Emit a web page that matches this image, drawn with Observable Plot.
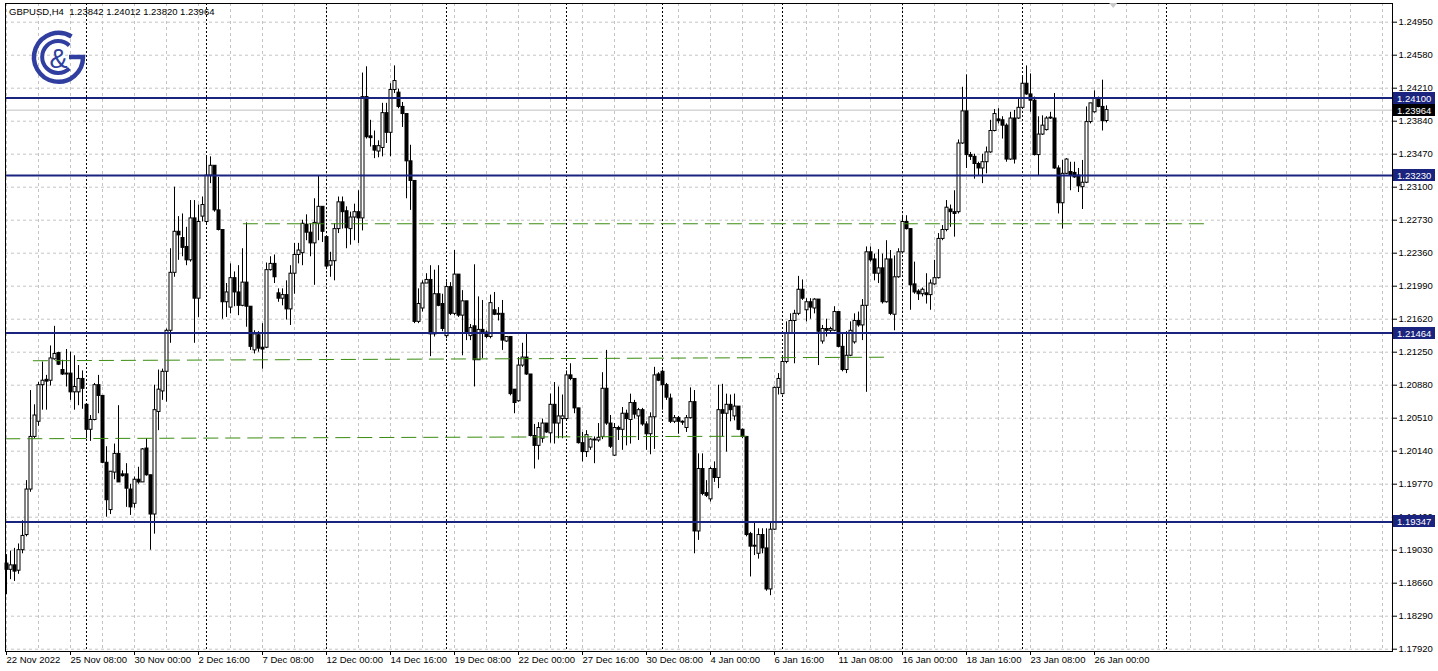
<!DOCTYPE html>
<html><head><meta charset="utf-8">
<script src="https://cdn.jsdelivr.net/npm/d3@7"></script>
<script src="https://cdn.jsdelivr.net/npm/@observablehq/plot@0.6"></script>
<style>
html,body{margin:0;padding:0;background:#fff;}
#wrap{position:relative;width:1438px;height:671px;overflow:hidden;font-family:"Liberation Sans",Arial,sans-serif;}
#title{position:absolute;left:9px;top:6px;font-size:9.5px;color:#000;white-space:pre;line-height:12px;}
#logo{position:absolute;left:0;top:0;}
</style></head><body>
<div id="wrap"><div id="chart"></div>
<div id="title"></div>
<svg id="logo" width="110" height="100" viewBox="0 0 110 100">
  <path d="M71.5,36.5 A24.5,24.5 0 1 0 83,57 L69,57" fill="none" stroke="#303f9f" stroke-width="4.5"/>
  <path d="M69.3,45.5 A16,16 0 1 0 69.3,68.5" fill="none" stroke="#303f9f" stroke-width="4"/>
  <text x="58.5" y="68" text-anchor="middle" font-family="Liberation Sans, Arial, sans-serif" font-size="27" fill="#303f9f">&amp;</text>
</svg>
</div>
<script>
const symbol = "GBPUSD,H4";
const opens = [
1.1888,1.1881,1.1886,1.1880,1.1903,1.1920,1.1971,1.2030,1.2047,1.2088,
1.2094,1.2093,1.2117,1.2124,1.2105,1.2101,1.2101,1.2080,1.2080,1.2095,
1.2066,1.2038,1.2049,1.2088,1.2076,1.2001,1.1948,1.1990,1.2011,1.1988,
1.1988,1.1971,1.1955,1.1982,1.1979,1.2017,1.1987,1.1943,1.2058,1.2081,
1.2103,1.2149,1.2214,1.2260,1.2253,1.2243,1.2228,1.2275,1.2185,1.2277,
1.2271,1.2323,1.2334,1.2284,1.2262,1.2181,1.2175,1.2208,1.2192,1.2177,
1.2203,1.2176,1.2127,1.2144,1.2130,1.2130,1.2217,1.2224,1.2191,1.2185,
1.2189,1.2173,1.2213,1.2234,1.2236,1.2268,1.2259,1.2247,1.2269,1.2288,
1.2254,1.2222,1.2227,1.2263,1.2293,1.2283,1.2263,1.2276,1.2282,1.2275,
1.2411,1.2367,1.2356,1.2350,1.2354,1.2393,1.2371,1.2419,1.2416,1.2400,
1.2392,1.2339,1.2317,1.2159,1.2174,1.2202,1.2206,1.2145,1.2190,1.2179,
1.2143,1.2198,1.2168,1.2212,1.2166,1.2182,1.2143,1.2154,1.2116,1.2150,
1.2147,1.2142,1.2172,1.2168,1.2168,1.2137,1.2142,1.2083,1.2070,1.2110,
1.2119,1.2100,1.2031,1.2020,1.2028,1.2045,1.2034,1.2066,1.2045,1.2050,
1.2050,1.2099,1.2095,1.2062,1.2023,1.2013,1.2018,1.2027,1.2026,1.2030,
1.2084,1.2045,1.2009,1.2040,1.2038,1.2056,1.2049,1.2068,1.2053,1.2060,
1.2044,1.2033,1.2052,1.2100,1.2103,1.2088,1.2073,1.2047,1.2051,1.2047,
1.2040,1.2051,1.2069,1.1924,1.1994,1.1967,1.1960,1.1994,1.1984,1.2060,
1.2056,1.2066,1.2053,1.2064,1.2038,1.2030,1.1921,1.1908,1.1899,1.1920,
1.1905,1.1859,1.1926,1.2085,1.2078,1.2114,1.2146,1.2160,1.2168,1.2195,
1.2172,1.2181,1.2174,1.2184,1.2137,1.2151,1.2149,1.2149,1.2170,1.2131,
1.2105,1.2121,1.2136,1.2160,1.2155,1.2177,1.2237,1.2229,1.2213,1.2219,
1.2181,1.2229,1.2167,1.2209,1.2237,1.2271,1.2263,1.2201,1.2193,1.2190,
1.2191,1.2189,1.2201,1.2208,1.2252,1.2262,1.2285,1.2282,1.2282,1.2359,
1.2395,1.2346,1.2344,1.2336,1.2331,1.2338,1.2349,1.2373,1.2386,1.2385,
1.2379,1.2341,1.2387,1.2387,1.2399,1.2426,1.2414,1.2407,1.2346,1.2369,
1.2374,1.2387,1.2387,1.2331,1.2292,1.2325,1.2327,1.2326,1.2323,1.2310,
1.2315,1.2383,1.2394,1.2410,1.2400,1.23842];
const highs = [
1.1898,1.1902,1.1905,1.1910,1.1936,1.1981,1.2082,1.2066,1.2091,1.2114,
1.2099,1.2132,1.2154,1.2125,1.2116,1.2128,1.2125,1.2121,1.2110,1.2104,
1.2067,1.2054,1.2090,1.2099,1.2076,1.2019,1.1991,1.2022,1.2065,1.1992,
1.2000,1.1977,1.1985,1.1996,1.2017,1.2028,1.1987,1.2088,1.2105,1.2106,
1.2151,1.2241,1.2310,1.2277,1.2280,1.2265,1.2295,1.2295,1.2290,1.2299,
1.2344,1.2344,1.2334,1.2321,1.2262,1.2202,1.2224,1.2215,1.2222,1.2241,
1.2270,1.2176,1.2149,1.2148,1.2157,1.2225,1.2232,1.2234,1.2196,1.2196,
1.2205,1.2222,1.2247,1.2247,1.2273,1.2279,1.2269,1.2297,1.2323,1.2288,
1.2254,1.2237,1.2269,1.2299,1.2299,1.2288,1.2282,1.2291,1.2306,1.2438,
1.2445,1.2385,1.2373,1.2362,1.2404,1.2404,1.2426,1.2446,1.2420,1.2405,
1.2392,1.2357,1.2317,1.2196,1.2205,1.2213,1.2222,1.2217,1.2222,1.2190,
1.2204,1.2203,1.2239,1.2212,1.2194,1.2182,1.2156,1.2223,1.2187,1.2183,
1.2149,1.2189,1.2192,1.2175,1.2183,1.2142,1.2142,1.2083,1.2119,1.2135,
1.2147,1.2100,1.2044,1.2046,1.2050,1.2045,1.2078,1.2091,1.2086,1.2077,
1.2104,1.2112,1.2095,1.2062,1.2035,1.2037,1.2028,1.2030,1.2045,1.2102,
1.2127,1.2054,1.2045,1.2042,1.2063,1.2060,1.2078,1.2071,1.2062,1.2062,
1.2047,1.2057,1.2108,1.2102,1.2105,1.2090,1.2078,1.2054,1.2053,1.2048,
1.2054,1.2085,1.2082,1.2011,1.2011,1.1981,1.1996,1.2002,1.2088,1.2089,
1.2078,1.2077,1.2078,1.2064,1.2039,1.2030,1.1923,1.1935,1.1927,1.1927,
1.1927,1.1935,1.2086,1.2101,1.2119,1.2159,1.2168,1.2172,1.2210,1.2206,
1.2185,1.2185,1.2185,1.2184,1.2155,1.2162,1.2153,1.2176,1.2170,1.2146,
1.2148,1.2159,1.2168,1.2170,1.2184,1.2243,1.2243,1.2235,1.2240,1.2235,
1.2250,1.2239,1.2233,1.2241,1.2278,1.2278,1.2263,1.2226,1.2195,1.2197,
1.2213,1.2206,1.2228,1.2258,1.2267,1.2295,1.2290,1.2306,1.2363,1.2422,
1.2436,1.2349,1.2347,1.2338,1.2347,1.2355,1.2385,1.2397,1.2398,1.2389,
1.2381,1.2394,1.2396,1.2409,1.2435,1.2446,1.2437,1.2411,1.2389,1.2390,
1.2389,1.2394,1.2415,1.2334,1.2340,1.2342,1.2338,1.2338,1.2331,1.2340,
1.2400,1.2404,1.2418,1.2411,1.2430,1.24012];
const lows = [
1.1853,1.1870,1.1868,1.1876,1.1899,1.1918,1.1968,1.2028,1.2042,1.2060,
1.2060,1.2087,1.2116,1.2110,1.2099,1.2086,1.2071,1.2060,1.2065,1.2061,
1.2028,1.2025,1.2048,1.2056,1.2000,1.1940,1.1943,1.1982,1.1979,1.1985,
1.1951,1.1942,1.1950,1.1977,1.1979,1.1986,1.1903,1.1921,1.2037,1.2071,
1.2069,1.2135,1.2209,1.2228,1.2232,1.2222,1.2226,1.2135,1.2164,1.2271,
1.2267,1.2314,1.2282,1.2261,1.2162,1.2164,1.2168,1.2176,1.2166,1.2176,
1.2153,1.2127,1.2123,1.2125,1.2106,1.2129,1.2216,1.2202,1.2181,1.2177,
1.2161,1.2155,1.2190,1.2224,1.2222,1.2250,1.2232,1.2200,1.2250,1.2248,
1.2219,1.2209,1.2205,1.2258,1.2263,1.2241,1.2245,1.2250,1.2247,1.2261,
1.2364,1.2355,1.2342,1.2343,1.2344,1.2359,1.2344,1.2415,1.2398,1.2377,
1.2297,1.2284,1.2157,1.2157,1.2170,1.2202,1.2120,1.2142,1.2176,1.2148,
1.2140,1.2166,1.2166,1.2164,1.2121,1.2138,1.2138,1.2086,1.2116,1.2118,
1.2140,1.2140,1.2166,1.2160,1.2127,1.2136,1.2076,1.2056,1.2069,1.2108,
1.2099,1.2030,1.1994,1.2004,1.2023,1.2034,1.2023,1.2022,1.2028,1.2028,
1.2048,1.2093,1.2056,1.2022,1.2002,1.2007,1.2015,1.2000,1.2024,1.2027,
1.2043,1.2017,1.2008,1.2026,1.2015,1.2020,1.2022,1.2050,1.2026,1.2042,
1.2015,1.2010,1.2016,1.2092,1.2060,1.2071,1.2045,1.2045,1.2033,1.2043,
1.2035,1.2050,1.1899,1.1914,1.1964,1.1962,1.1957,1.1979,1.1972,1.2030,
1.2013,1.2047,1.2048,1.2037,1.2028,1.1918,1.1873,1.1897,1.1893,1.1899,
1.1857,1.1852,1.1925,1.2077,1.2077,1.2112,1.2146,1.2112,1.2166,1.2183,
1.2159,1.2162,1.2168,1.2110,1.2134,1.2142,1.2146,1.2148,1.2130,1.2103,
1.2101,1.2120,1.2134,1.2153,1.2138,1.2080,1.2226,1.2205,1.2202,1.2179,
1.2180,1.2166,1.2149,1.2208,1.2235,1.2262,1.2172,1.2190,1.2183,1.2187,
1.2179,1.2172,1.2200,1.2207,1.2250,1.2260,1.2265,1.2254,1.2280,1.2358,
1.2331,1.2340,1.2319,1.2323,1.2314,1.2325,1.2348,1.2372,1.2381,1.2364,
1.2338,1.2340,1.2336,1.2386,1.2398,1.2413,1.2394,1.2345,1.2323,1.2368,
1.2373,1.2386,1.2330,1.2280,1.2263,1.2324,1.2306,1.2320,1.2304,1.2285,
1.2314,1.2381,1.2393,1.2399,1.2373,1.23820];
const closes = [
1.1881,1.1886,1.1879,1.1903,1.1919,1.1971,1.2030,1.2054,1.2088,1.2093,
1.2092,1.2118,1.2123,1.2111,1.2100,1.2100,1.2080,1.2086,1.2095,1.2084,
1.2038,1.2049,1.2088,1.2076,1.2001,1.1959,1.1991,1.2011,1.1979,1.1986,
1.1972,1.1951,1.1982,1.1979,1.2016,1.1987,1.1943,1.2060,1.2083,1.2103,
1.2149,1.2214,1.2260,1.2256,1.2242,1.2228,1.2275,1.2185,1.2271,1.2290,
1.2323,1.2334,1.2284,1.2262,1.2181,1.2192,1.2208,1.2192,1.2177,1.2203,
1.2176,1.2131,1.2145,1.2129,1.2128,1.2217,1.2224,1.2209,1.2185,1.2189,
1.2173,1.2213,1.2234,1.2239,1.2269,1.2259,1.2247,1.2270,1.2288,1.2260,
1.2221,1.2227,1.2263,1.2293,1.2282,1.2264,1.2276,1.2282,1.2275,1.2411,
1.2366,1.2365,1.2351,1.2356,1.2393,1.2371,1.2419,1.2429,1.2400,1.2392,
1.2339,1.2317,1.2159,1.2179,1.2202,1.2206,1.2145,1.2190,1.2177,1.2151,
1.2198,1.2168,1.2212,1.2166,1.2182,1.2147,1.2152,1.2116,1.2150,1.2147,
1.2142,1.2180,1.2167,1.2167,1.2138,1.2142,1.2078,1.2068,1.2110,1.2119,
1.2100,1.2031,1.2020,1.2040,1.2045,1.2035,1.2066,1.2045,1.2053,1.2053,
1.2099,1.2095,1.2062,1.2023,1.2013,1.2032,1.2027,1.2026,1.2029,1.2084,
1.2045,1.2019,1.2040,1.2038,1.2056,1.2050,1.2068,1.2055,1.2060,1.2044,
1.2033,1.2052,1.2099,1.2093,1.2088,1.2074,1.2047,1.2051,1.2047,1.2046,
1.2051,1.2069,1.1924,1.1994,1.1966,1.1964,1.1994,1.1984,1.2060,1.2056,
1.2066,1.2060,1.2064,1.2038,1.2030,1.1920,1.1907,1.1907,1.1920,1.1905,
1.1859,1.1926,1.2085,1.2095,1.2114,1.2146,1.2160,1.2168,1.2195,1.2185,
1.2181,1.2175,1.2184,1.2148,1.2151,1.2149,1.2151,1.2170,1.2131,1.2105,
1.2121,1.2149,1.2160,1.2155,1.2177,1.2237,1.2228,1.2213,1.2219,1.2181,
1.2229,1.2168,1.2209,1.2237,1.2271,1.2263,1.2200,1.2192,1.2190,1.2195,
1.2189,1.2202,1.2208,1.2252,1.2262,1.2287,1.2282,1.2280,1.2359,1.2395,
1.2346,1.2344,1.2336,1.2331,1.2338,1.2349,1.2373,1.2392,1.2384,1.2379,
1.2341,1.2387,1.2341,1.2399,1.2426,1.2414,1.2407,1.2346,1.2369,1.2379,
1.2387,1.2388,1.2331,1.2292,1.2325,1.2341,1.2323,1.2321,1.2311,1.2315,
1.2383,1.2404,1.2410,1.2400,1.2384,1.23964];

// time-axis labels (bar index of each label, and its text)
const labelBars = [0,16,32,48,64,80,96,112,128,144,160,176,192,208,224,240,256,272];
const labelTexts = ["22 Nov 2022","25 Nov 08:00","30 Nov 00:00","2 Dec 16:00","7 Dec 08:00","12 Dec 00:00","14 Dec 16:00","19 Dec 08:00","22 Dec 00:00","27 Dec 16:00","30 Dec 08:00","4 Jan 00:00","6 Jan 16:00","11 Jan 08:00","16 Jan 00:00","18 Jan 16:00","23 Jan 08:00","26 Jan 00:00"];
// week separators (bar index of Monday 00:00)
const weekStarts = [20,50,80,110,140,164,194,224,254,290];
// price axis ticks
const tickPrices = [1.17920,1.18290,1.18660,1.19030,1.19400,1.19770,1.20140,1.20510,1.20880,1.21250,1.21620,1.21990,1.22360,1.22730,1.23100,1.23470,1.23840,1.24210,1.24580,1.24950];
// horizontal levels (navy)
const levels = [1.24100,1.23230,1.21464,1.19347];
// green dashed analyst lines
const greenStartBar = [6.6,-0.3,59.1];
const greenEndBar = [220.3,186.6,299.6];
const greenStartPrice = [1.21154,1.20279,1.22690];
const greenEndPrice = [1.21194,1.20308,1.22690];

const N = opens.length;
const bars = d3.range(N).map(i => ({i, o: opens[i], h: highs[i], l: lows[i], c: closes[i]}));
const last = bars[N - 1];
const bid = last.c;
const greens = greenStartBar.map((b, k) => ({x1: b, x2: greenEndBar[k], y1: greenStartPrice[k], y2: greenEndPrice[k]}));
const gridBars = d3.range(0, 347, 8);
const f5 = d => d.toFixed(5);

document.getElementById("title").textContent = `${symbol}  ${f5(last.o)} ${f5(last.h)} ${f5(last.l)} ${f5(last.c)}`;

const FONT = '"Liberation Sans", Arial, sans-serif';
const chart = Plot.plot({
  width: 1438, height: 671,
  marginLeft: 5, marginRight: 46, marginTop: 3, marginBottom: 20,
  x: {domain: [-0.25, 346.5], axis: null},
  y: {domain: [1.178942, 1.251596], axis: null},
  color: {type: "identity"},
  style: {fontFamily: FONT, fontSize: "9.5px", background: "white", overflow: "visible"},
  marks: [
    Plot.ruleY(tickPrices, {stroke: "#c4c4c4", strokeDasharray: "3,3"}),
    Plot.ruleX(gridBars, {stroke: "#c4c4c4", strokeDasharray: "3,3"}),
    Plot.ruleX(weekStarts, {stroke: "#000", strokeDasharray: "2,2"}),
    Plot.ruleY([bid], {stroke: "#c0c0c0"}),
    Plot.ruleX(bars, {x: "i", y1: d => Math.min(d.l, d.o, d.c), y2: d => Math.max(d.h, d.o, d.c), stroke: "#000"}),
    Plot.rect(bars, {
      x1: d => d.i - 0.25, x2: d => d.i + 0.5,
      y1: d => Math.min(d.o, d.c),
      y2: d => Math.max(d.o, d.c, Math.min(d.o, d.c) + 0.00001),
      fill: d => d.c >= d.o ? "#ffffff" : "#000000",
      stroke: "#000"
    }),
    Plot.link(greens, {x1: "x1", y1: "y1", x2: "x2", y2: "y2", stroke: "#3a8c10", strokeDasharray: "15,7", clip: true}),
    Plot.ruleY(levels, {stroke: "#1a237e", strokeWidth: 2}),
    Plot.frame({stroke: "#000"}),
    Plot.axisY({anchor: "right", ticks: tickPrices, tickFormat: f5, tickSize: 4, tickPadding: 2, fontSize: 9.5, label: null}),
    Plot.axisX({anchor: "bottom", ticks: labelBars, tickFormat: d => labelTexts[labelBars.indexOf(d)], textAnchor: "start", tickSize: 4, tickPadding: 1, fontSize: 9.5, label: null})
  ]
});
document.getElementById("chart").appendChild(chart);

// price tags on the right axis, positioned through the plot's y scale
const yS = chart.scale("y"), xS = chart.scale("x");
const svg = d3.select(chart);
const tagG = svg.append("g").attr("text-anchor", "start");
const tags = levels.map(v => ({v, fill: "#1a237e"})).concat([{v: bid, fill: "#000"}]);
tags.forEach(t => {
  const y = Math.round(yS.apply(t.v));
  tagG.append("rect").attr("x", 1393).attr("y", y - 6).attr("width", 42).attr("height", 12).attr("fill", t.fill);
  tagG.append("text").attr("x", 1397).attr("y", y + 3.5).attr("fill", "#fff").attr("text-anchor", "start")
    .attr("font-family", FONT).attr("font-size", 9.5).text(f5(t.v));
});
// chart-shift marker
const sx = xS.apply(276.8);
svg.append("path").attr("d", `M${sx-4},3 L${sx+4},3 L${sx},8 Z`).attr("fill", "#c8c8c8");
</script>
</body></html>
